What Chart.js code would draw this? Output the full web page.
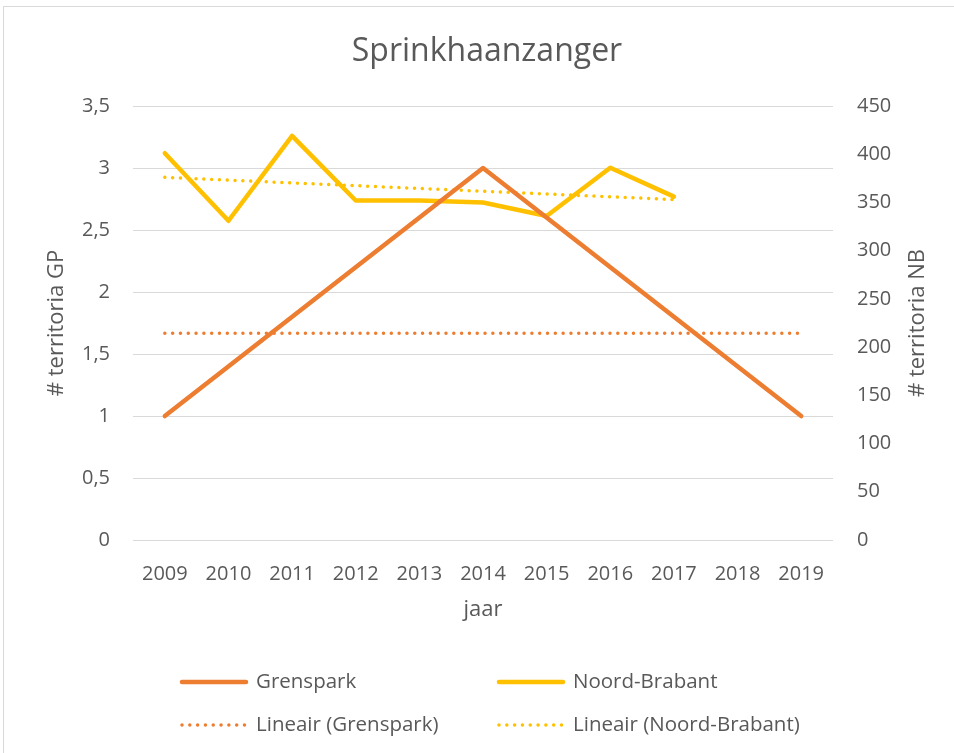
<!DOCTYPE html>
<html>
<head>
<meta charset="utf-8">
<title>Sprinkhaanzanger</title>
<script src="https://cdn.jsdelivr.net/npm/chart.js@4.4.1/dist/chart.umd.min.js"></script>
<style>
  body { margin: 0; background: #fff; }
  #wrap { position: relative; width: 954px; height: 753px; overflow: hidden; }
  #frame { position: absolute; left: 3px; top: 6px; width: 1000px; height: 800px; border: 1px solid #d9d9d9; }
  #chart { position: absolute; left: 0; top: 0; }
</style>
</head>
<body>
<div id="wrap">
  <div id="frame"></div>
  <canvas id="chart" width="954" height="753"></canvas>
</div>
<script>
// data
const years = ['2009', '2010', '2011', '2012', '2013', '2014', '2015', '2016', '2017', '2018', '2019'];
const grenspark = [1, null, null, null, null, 3, null, null, null, null, 1];
const noordBrabant = [401, 331, 419, 352, 352, 350, 336, 386, 356, null, null];
const trendGrenspark = [1.667, null, null, null, null, null, null, null, null, null, 1.667];
const trendNoordBrabant = [376, null, null, null, null, null, null, null, 353, null, null];

const ORANGE = '#ED7D31';
const YELLOW = '#FFC000';
const TEXT = '#595959';
const GRID = '#d9d9d9';
const FONT = "'Open Sans', sans-serif";

const comma = v => String(v).replace('.', ',');

// legend in two columns, like the excel one
const gridLegend = {
  id: 'gridLegend',
  afterDraw(chart) {
    const ctx = chart.ctx;
    const cols = [180, 497];
    const rows = [682, 725];
    chart.data.datasets.forEach((ds, i) => {
      const x = cols[i % 2];
      const y = rows[Math.floor(i / 2)];
      ctx.save();
      ctx.strokeStyle = ds.borderColor;
      ctx.lineWidth = ds.borderWidth;
      ctx.lineCap = 'round';
      ctx.setLineDash(ds.borderDash || []);
      ctx.beginPath();
      ctx.moveTo(x + 2, y);
      ctx.lineTo(x + 66, y);
      ctx.stroke();
      ctx.setLineDash([]);
      ctx.fillStyle = TEXT;
      ctx.font = '20.5px ' + FONT;
      ctx.textBaseline = 'middle';
      ctx.fillText(ds.label, x + 76, y);
      ctx.restore();
    });

    // right axis title reads bottom to top in the original
    const area = chart.chartArea;
    ctx.save();
    ctx.translate(918, (area.top + area.bottom) / 2);
    ctx.rotate(-Math.PI / 2);
    ctx.fillStyle = TEXT;
    ctx.font = '22px ' + FONT;
    ctx.textAlign = 'center';
    ctx.textBaseline = 'middle';
    ctx.fillText('# territoria NB', 0, 0);
    ctx.restore();
  }
};

const chart = new Chart(document.getElementById('chart').getContext('2d'), {
  type: 'line',
  data: {
    labels: years,
    datasets: [
      { label: 'Grenspark', data: grenspark, yAxisID: 'y', borderColor: ORANGE, borderWidth: 4.5,
        spanGaps: true, pointRadius: 0, borderCapStyle: 'round', borderJoinStyle: 'round' },
      { label: 'Noord-Brabant', data: noordBrabant, yAxisID: 'y1', borderColor: YELLOW, borderWidth: 4.5,
        spanGaps: true, pointRadius: 0, borderCapStyle: 'round', borderJoinStyle: 'round' },
      { label: 'Lineair (Grenspark)', data: trendGrenspark, yAxisID: 'y', borderColor: ORANGE, borderWidth: 3.5,
        borderDash: [0.01, 7.8], borderCapStyle: 'round', spanGaps: true, pointRadius: 0 },
      { label: 'Lineair (Noord-Brabant)', data: trendNoordBrabant, yAxisID: 'y1', borderColor: YELLOW, borderWidth: 3.5,
        borderDash: [0.01, 7.8], borderCapStyle: 'round', spanGaps: true, pointRadius: 0 }
    ]
  },
  options: {
    responsive: false,
    animation: false,
    layout: { padding: { left: 40, right: 20, top: 10, bottom: 126 } },
    plugins: {
      legend: { display: false },
      tooltip: { enabled: false },
      title: {
        display: true,
        text: 'Sprinkhaanzanger',
        color: TEXT,
        font: { family: FONT, size: 32, weight: 'normal' },
        padding: { top: 23, bottom: 34.6 }
      }
    },
    scales: {
      x: {
        offset: true,
        grid: { display: false },
        border: { display: false },
        ticks: { color: TEXT, font: { family: FONT, size: 20 }, padding: 14, maxRotation: 0, autoSkip: false },
        title: { display: true, text: 'jaar', color: TEXT, font: { family: FONT, size: 22 } },
        afterFit(scale) { scale.height = 87; }
      },
      y: {
        position: 'left',
        min: 0, max: 3.5,
        grid: { color: GRID, lineWidth: 1, drawTicks: false },
        border: { display: false },
        ticks: { stepSize: 0.5, color: TEXT, font: { family: FONT, size: 20 }, padding: 23, callback: comma },
        title: { display: true, text: '# territoria GP', color: TEXT, font: { family: FONT, size: 22 } },
        afterFit(scale) { scale.width = 93; }
      },
      y1: {
        position: 'right',
        min: 0, max: 450,
        grid: { display: false, drawTicks: false },
        border: { display: false },
        ticks: { stepSize: 50, color: TEXT, font: { family: FONT, size: 20 }, padding: 24 },
        afterFit(scale) { scale.width = 101; }
      }
    }
  },
  plugins: [gridLegend]
});
</script>
</body>
</html>
